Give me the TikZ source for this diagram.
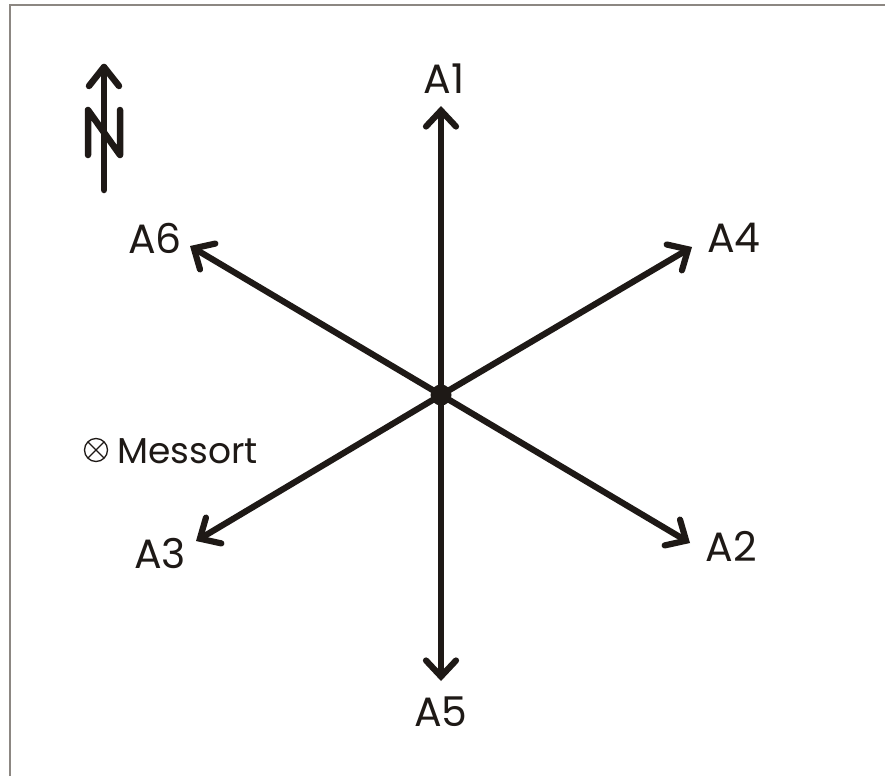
\documentclass[tikz,border=0pt]{standalone}
\usepackage{fontspec}
\setmainfont{Poppins}
\usetikzlibrary{arrows.meta}
\definecolor{framegray}{RGB}{140,135,130}
\definecolor{ink}{RGB}{30,25,22}
\begin{document}
\begin{tikzpicture}[x=1pt,y=-1pt,
  axis/.style={draw=ink,line width=6.2pt,-{Straight Barb[length=16pt,width=30pt,line cap=round]}},
  lbl/.style={font=\fontsize{41}{41}\selectfont,text=ink,inner sep=0pt},
  northline/.style={draw=ink,line width=6.5pt,line cap=round,line join=round}]
\useasboundingbox (0,0) rectangle (885,776);
\draw[framegray,line width=2pt] (9.5,776) -- (9.5,5.5) -- (885,5.5);
% centre and tips
\coordinate (C) at (441,395);
\coordinate (t1) at (441,106);
\coordinate (t5) at (441,681);
\coordinate (t4) at (692,247);
\coordinate (t6) at (190,246);
\coordinate (t2) at (690,543);
\coordinate (t3) at (196,541);
\foreach \t in {t1,t2,t3,t4,t5,t6} \draw[axis] (C) -- (\t);
\fill[ink] (C) circle (10.5pt);
% labels
\node[lbl] (A1) at (444,79) {A1};
\node[lbl] (A5) at (441,712) {A5};
\node[lbl] (A4) at (734,238) {A4};
\node[lbl] (A6) at (155,238) {A6};
\node[lbl] (A2) at (731,546) {A2};
\node[lbl] (A3) at (160,553) {A3};
% north symbol
\coordinate (nb) at (104,190);
\coordinate (nt) at (104,67);
\draw[northline] (nb) -- (nt);
\draw[northline] (89,86) -- (nt) -- (119,86);
\draw[northline] (88,155) -- (88,110) -- (120,155) -- (120,110);
% Messort
\node[draw=ink,circle,minimum size=23pt,inner sep=0pt,line width=1.3pt,
  path picture={\draw[ink,line width=1.3pt] (path picture bounding box.south west) -- (path picture bounding box.north east)
  (path picture bounding box.north west) -- (path picture bounding box.south east);}] (M) at (96,450) {};
\node[lbl,font=\fontsize{36}{36}\selectfont,anchor=west] (Mt) at (117,451) {Messort};
\end{tikzpicture}
\end{document}
